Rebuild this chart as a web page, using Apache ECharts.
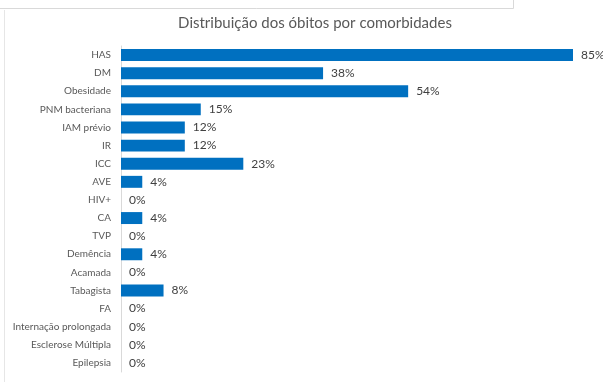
<!DOCTYPE html>
<html><head><meta charset="utf-8">
<script src="https://cdn.jsdelivr.net/npm/echarts@6/dist/echarts.min.js"></script>
<style>html,body{margin:0;padding:0;background:#fff}#c{width:603px;height:382px}</style>
</head><body><div id="c"></div>
<script>
const categories = ["HAS","DM","Obesidade","PNM bacteriana","IAM prévio","IR","ICC","AVE","HIV+","CA","TVP","Demência","Acamada","Tabagista","FA","Internação prolongada","Esclerose Múltipla","Epilepsia"];
const values = [85,38,54,15,12,12,23,4,0,4,0,4,0,8,0,0,0,0];
const titleText = "Distribuição dos óbitos por comorbidades";
const font = "Lato";
const chart = echarts.init(document.getElementById('c'), null, {renderer:'canvas'});
chart.setOption({
  animation:false,
  backgroundColor:'#fff',
  title:{text:titleText,left:310,textAlign:'center',top:11,textStyle:{fontFamily:font,fontSize:15,fontWeight:'normal',color:'#595959'}},
  graphic:[
    {type:'polyline',shape:{points:[[0,8.5],[513.5,8.5],[513.5,0]]},style:{stroke:'#d9d9d9',lineWidth:1,fill:null}},
    {type:'line',shape:{x1:4.5,y1:10,x2:4.5,y2:382},style:{stroke:'#e6e6e6',lineWidth:1}}
  ],
  grid:{left:121,right:30,top:46,bottom:10,containLabel:false},
  xAxis:{type:'value',min:0,max:85,show:false},
  yAxis:{type:'category',data:categories,inverse:true,
    axisLine:{show:true,lineStyle:{color:'#d9d9d9',width:1}},
    axisTick:{show:false},
    axisLabel:{fontFamily:font,fontSize:10,color:'#595959',margin:10}},
  series:[{type:'bar',data:values,barCategoryGap:'34%',
    itemStyle:{color:'#0070c0'},
    label:{show:true,position:'right',distance:8,formatter:p=>p.value+'%',fontFamily:font,fontSize:12,color:'#404040'}}]
});
</script></body></html>
